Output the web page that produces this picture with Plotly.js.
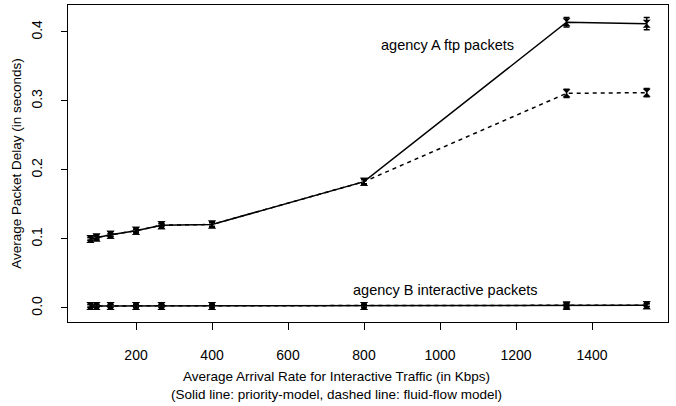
<!DOCTYPE html>
<html>
<head>
<meta charset="utf-8">
<script src="https://cdn.plot.ly/plotly-3.0.1.min.js"></script>
<style>html,body{margin:0;padding:0;background:#fff;}#chart{width:676px;height:406px;}</style>
</head>
<body>
<div id="chart"></div>
<script>
// Average arrival rate for interactive traffic (Kbps)
const arrivalRate = [80, 96, 133, 200, 267, 400, 800, 1333, 1544];
// Agency A ftp packets delay (s)
const ftpPriority = [0.100, 0.102, 0.106, 0.112, 0.120, 0.121, 0.183, 0.414, 0.412];
const ftpFluid    = [0.100, 0.102, 0.106, 0.112, 0.120, 0.121, 0.183, 0.311, 0.312];
const ftpPriorityErr = [0.002, 0.002, 0.002, 0.002, 0.002, 0.003, 0.003, 0.007, 0.009];
const ftpFluidErr    = [0.002, 0.002, 0.002, 0.002, 0.002, 0.003, 0.003, 0.006, 0.006];
// Agency B interactive packets delay (s)
const intPriority = [0.003, 0.003, 0.003, 0.003, 0.003, 0.003, 0.003, 0.003, 0.004];
const intFluid    = [0.003, 0.003, 0.003, 0.003, 0.003, 0.003, 0.003, 0.004, 0.004];
const intErr      = [0.002, 0.002, 0.002, 0.002, 0.002, 0.002, 0.002, 0.002, 0.002];

const xTicks = [200, 400, 600, 800, 1000, 1200, 1400];
const yTicks = [0.0, 0.1, 0.2, 0.3, 0.4];
const xTitle = 'Average Arrival Rate for Interactive Traffic (in Kbps)<br>(Solid line: priority-model, dashed line: fluid-flow model)';
const yTitle = 'Average Packet Delay (in seconds)';

function series(y, err, dash, name) {
  return {
    x: arrivalRate, y: y, name: name, type: 'scatter', mode: 'lines+markers',
    line: {color: '#000', width: 1.5, dash: dash},
    marker: {symbol: 'hourglass', size: 8, color: '#000'},
    error_y: {type: 'data', array: err, visible: true, color: '#000', thickness: 1.5, width: 3},
    showlegend: false
  };
}

const data = [
  series(ftpFluid, ftpFluidErr, '4px,4px', 'agency A ftp (fluid-flow)'),
  series(ftpPriority, ftpPriorityErr, 'solid', 'agency A ftp (priority)'),
  series(intFluid, intErr, '4px,4px', 'agency B interactive (fluid-flow)'),
  series(intPriority, intErr, 'solid', 'agency B interactive (priority)')
];

const fontFam = 'Liberation Sans, Arial, Helvetica, sans-serif';
const layout = {
  width: 676, height: 406,
  margin: {l: 68, r: 8, t: 5, b: 84},
  paper_bgcolor: '#fff', plot_bgcolor: '#fff',
  font: {family: fontFam, size: 14, color: '#000'},
  xaxis: {
    range: [21, 1600], tickvals: xTicks, ticktext: xTicks.map(String),
    ticks: 'outside', ticklen: 7, tickcolor: '#000', tickwidth: 1,
    showline: true, mirror: true, linecolor: '#000', linewidth: 1.3,
    showgrid: false, zeroline: false,
    tickfont: {family: fontFam, size: 14},
    ticklabelstandoff: 13
  },
  yaxis: {
    range: [-0.0203, 0.439], tickvals: yTicks, ticktext: yTicks.map(v => v.toFixed(1)),
    ticks: 'outside', ticklen: 6, tickcolor: '#000', tickwidth: 1,
    tickangle: -90,
    showline: true, mirror: true, linecolor: '#000', linewidth: 1.3,
    showgrid: false, zeroline: false,
    tickfont: {family: fontFam, size: 14},
    ticklabelstandoff: 13,
    title: {text: yTitle, font: {family: fontFam, size: 13.5}, standoff: 4}
  },
  annotations: [
    {x: 1021, y: 0.381, xref: 'x', yref: 'y', text: 'agency A ftp packets', showarrow: false,
     font: {family: fontFam, size: 14.5}},
    {x: 1015, y: 0.026, xref: 'x', yref: 'y', text: 'agency B interactive packets', showarrow: false,
     font: {family: fontFam, size: 14.5}},
    {x: 0.447, y: -0.2, xref: 'paper', yref: 'paper', xanchor: 'center', yanchor: 'middle',
     text: xTitle, showarrow: false, font: {family: fontFam, size: 13.5}}
  ]
};

Plotly.newPlot('chart', data, layout, {displayModeBar: false, staticPlot: true});
</script>
</body>
</html>
